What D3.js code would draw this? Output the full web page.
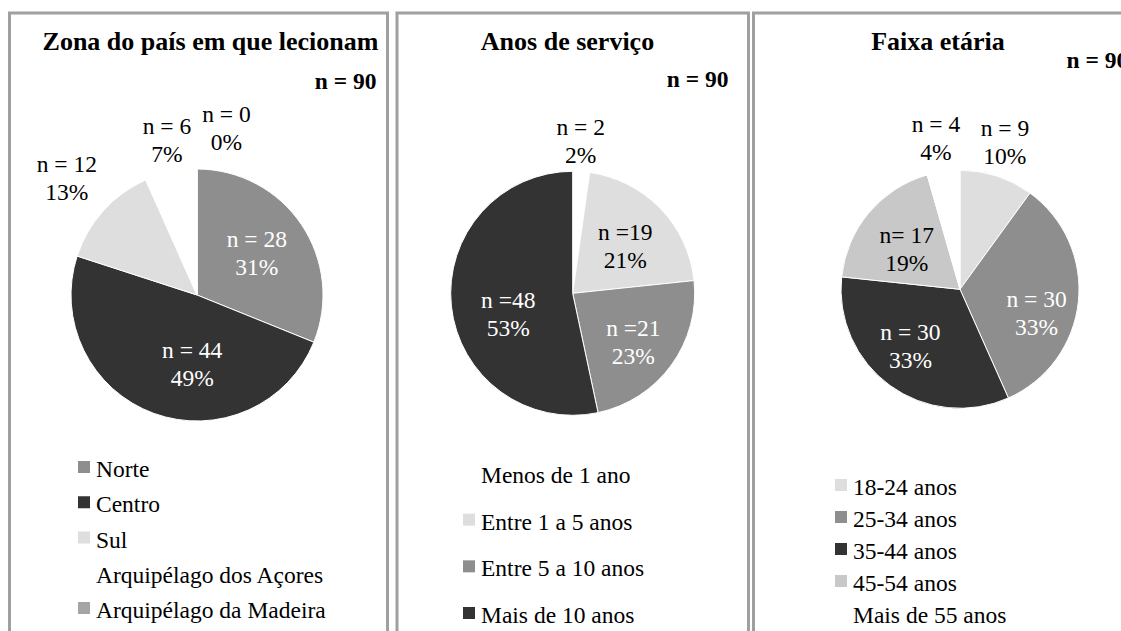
<!DOCTYPE html>
<html>
<head>
<meta charset="utf-8">
<script src="https://cdn.jsdelivr.net/npm/d3@7"></script>
<style>
    body { margin: 0; background: #ffffff; }
    svg text { font-family: "Liberation Serif", "Times New Roman", serif; }
    .title { font-weight: bold; font-size: 26px; fill: #000; }
    .total { font-weight: bold; font-size: 23.5px; fill: #000; }
    .slicelabel { font-size: 23.5px; }
    .legendtext { font-size: 23.5px; fill: #000; }
</style>
</head>
<body>
<div id="chart"></div>
<script>
// --- data ---
var total = 90;

var zonaTitle = "Zona do país em que lecionam";
var zonaCategories = ["Norte", "Centro", "Sul", "Arquipélago dos Açores", "Arquipélago da Madeira"];
var zonaValues = [28, 44, 12, 6, 0];
var zonaPrefix = ["n = ", "n = ", "n = ", "n = ", "n = "];

var anosTitle = "Anos de serviço";
var anosCategories = ["Menos de 1 ano", "Entre 1 a 5 anos", "Entre 5 a 10 anos", "Mais de 10 anos"];
var anosValues = [2, 19, 21, 48];
var anosPrefix = ["n = ", "n =", "n =", "n ="];

var faixaTitle = "Faixa etária";
var faixaCategories = ["18-24 anos", "25-34 anos", "35-44 anos", "45-54 anos", "Mais de 55 anos"];
var faixaValues = [9, 30, 30, 17, 4];
var faixaPrefix = ["n = ", "n = ", "n = ", "n= ", "n = "];

// --- styles / layout ---
var zonaColors = ["#8e8e8e", "#333333", "#dedede", "#ffffff", "#a5a5a5"];
var anosColors = ["#ffffff", "#dedede", "#8e8e8e", "#333333"];
var faixaColors = ["#dedede", "#8e8e8e", "#333333", "#c8c8c8", "#ffffff"];

var width = 1121, height = 631;

var svg = d3.select("#chart").append("svg")
    .attr("width", width)
    .attr("height", height);

function drawPanel(p) {
    var g = svg.append("g");

    // frame
    g.append("rect")
        .attr("x", p.frame[0])
        .attr("y", 13)
        .attr("width", p.frame[1] - p.frame[0])
        .attr("height", 700)
        .attr("fill", "none")
        .attr("stroke", "#a0a0a0")
        .attr("stroke-width", 3);

    g.append("text")
        .attr("class", "title")
        .attr("x", p.titleX)
        .attr("y", p.titleY)
        .attr("text-anchor", "middle")
        .text(p.title);

    g.append("text")
        .attr("class", "total")
        .attr("x", p.totalX)
        .attr("y", p.totalY)
        .attr("text-anchor", p.totalAnchor)
        .text("n = " + total);

    var pie = d3.pie().sort(null).value(function (d) { return d; });
    var arcs = pie(p.values);

    var arc = d3.arc().innerRadius(0).outerRadius(p.r);

    var pieG = g.append("g")
        .attr("transform", "translate(" + p.cx + "," + p.cy + ")");

    pieG.selectAll("path")
        .data(arcs)
        .enter()
        .append("path")
        .attr("d", arc)
        .attr("fill", function (d, i) { return p.colors[i]; })
        .attr("stroke", "#ffffff")
        .attr("stroke-width", 1);

    // labels: placed on the slice's mid angle (shifted a bit) at a given radius
    var labels = pieG.selectAll("g.lbl")
        .data(arcs)
        .enter()
        .append("g")
        .attr("class", "lbl")
        .attr("transform", function (d, i) {
            var a = (d.startAngle + d.endAngle) / 2 + p.labelShift[i] * Math.PI / 180;
            var pt = d3.pointRadial(a, p.r * p.labelRadius[i]);
            return "translate(" + pt[0] + "," + pt[1] + ")";
        });

    labels.append("text")
        .attr("class", "slicelabel")
        .attr("text-anchor", "middle")
        .attr("y", -p.lineGap / 2 + 8)
        .attr("fill", function (d, i) { return p.labelWhite[i] ? "#ffffff" : "#000000"; })
        .text(function (d, i) { return p.prefix[i] + d.value; });

    labels.append("text")
        .attr("class", "slicelabel")
        .attr("text-anchor", "middle")
        .attr("y", p.lineGap / 2 + 8)
        .attr("fill", function (d, i) { return p.labelWhite[i] ? "#ffffff" : "#000000"; })
        .text(function (d) { return Math.round(d.value / total * 100) + "%"; });

    // legend
    var y = d3.scalePoint()
        .domain(p.categories)
        .range([p.legendTop, p.legendBottom]);

    var items = g.selectAll("g.legend")
        .data(p.categories)
        .enter()
        .append("g")
        .attr("class", "legend")
        .attr("transform", function (d) { return "translate(" + p.legendX + "," + y(d) + ")"; });

    items.append("rect")
        .attr("x", 0)
        .attr("y", -16)
        .attr("width", 12)
        .attr("height", 12)
        .attr("fill", function (d, i) { return p.colors[i]; });

    items.append("text")
        .attr("class", "legendtext")
        .attr("x", 18)
        .attr("y", 0)
        .text(function (d) { return d; });
}

drawPanel({
    title: zonaTitle, values: zonaValues, categories: zonaCategories, colors: zonaColors, prefix: zonaPrefix,
    frame: [9.5, 387.5], titleX: 210.5, titleY: 50, totalX: 376.5, totalY: 89, totalAnchor: "end",
    cx: 197, cy: 295, r: 126, lineGap: 28,
    labelRadius: [0.58, 0.545, 1.39, 1.25, 1.345],
    labelShift: [-1, -16, 0, 1, 10],
    labelWhite: [true, true, false, false, false],
    legendX: 78, legendTop: 477, legendBottom: 618
});

drawPanel({
    title: anosTitle, values: anosValues, categories: anosCategories, colors: anosColors, prefix: anosPrefix,
    frame: [397, 748.5], titleX: 567.5, titleY: 50, totalX: 728.5, totalY: 87, totalAnchor: "end",
    cx: 572.7, cy: 293.3, r: 122, lineGap: 28,
    labelRadius: [1.25, 0.58, 0.64, 0.556],
    labelShift: [-1, 2, 3, -12],
    labelWhite: [false, false, true, true],
    legendX: 463, legendTop: 483, legendBottom: 623
});

drawPanel({
    title: faixaTitle, values: faixaValues, categories: faixaCategories, colors: faixaColors, prefix: faixaPrefix,
    frame: [753.5, 1200], titleX: 938, titleY: 49.5, totalX: 1066.5, totalY: 68, totalAnchor: "start",
    cx: 960, cy: 289.3, r: 119, lineGap: 28,
    labelRadius: [1.29, 0.673, 0.635, 0.56, 1.29],
    labelShift: [-1, 11, 5, -3, -1],
    labelWhite: [false, true, true, false, false],
    legendX: 835, legendTop: 495, legendBottom: 623
});
</script>
</body>
</html>
